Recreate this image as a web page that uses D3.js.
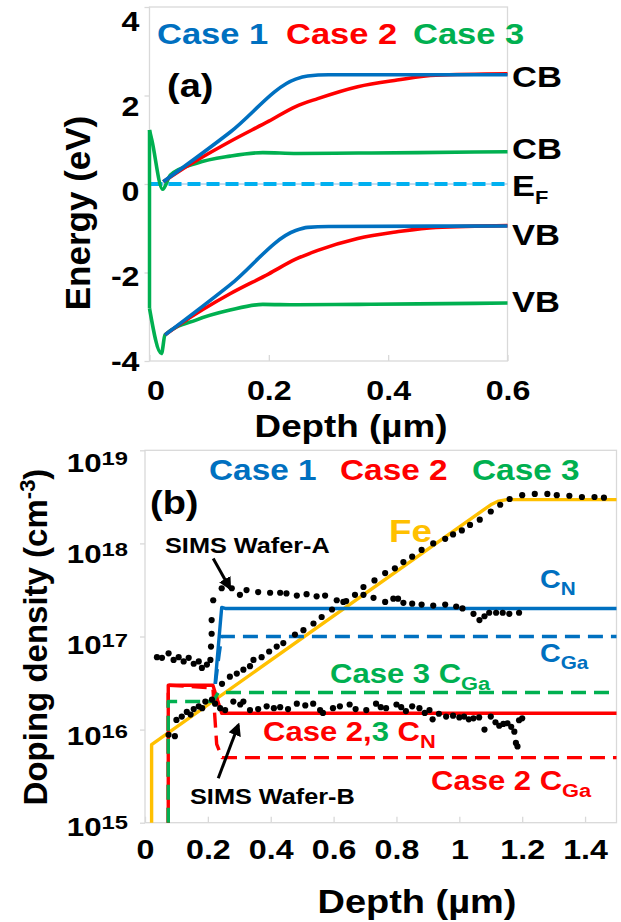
<!DOCTYPE html>
<html>
<head>
<meta charset="utf-8">
<script src="https://cdn.jsdelivr.net/npm/d3@7"></script>
<style>
  body { margin: 0; background: #fff; }
  svg { display: block; font-family: "Liberation Sans", Arial, sans-serif; font-weight: bold; }
</style>
</head>
<body>
<div id="chart"></div>
<script>
// ---------- panel (a): band edges, [depth um, energy eV]
var case1CB = [[0.023, 0.05], [0.135, 1.17], [0.245, 2.37], [0.265, 2.44], [0.3, 2.47], [0.6, 2.47]];
var case2CB = [[0.023, 0.05], [0.051, 0.3], [0.135, 0.96], [0.2, 1.42], [0.245, 1.75], [0.282, 1.93],
               [0.349, 2.2], [0.415, 2.35], [0.48, 2.46], [0.6, 2.49]];
var case3CB = [[0, 1.22], [0.004, 0.99], [0.022, -0.12], [0.035, 0.2], [0.079, 0.47], [0.135, 0.63],
               [0.19, 0.71], [0.247, 0.69], [0.35, 0.7], [0.45, 0.71], [0.6, 0.73]];
var case1VB = [[0.026, -3.41], [0.135, -2.28], [0.245, -1.05], [0.265, -0.98], [0.3, -0.96], [0.6, -0.95]];
var case2VB = [[0.026, -3.41], [0.051, -3.17], [0.135, -2.48], [0.2, -2.03], [0.245, -1.7], [0.282, -1.5],
               [0.349, -1.23], [0.415, -1.08], [0.48, -0.98], [0.6, -0.94]];
var case3VB = [[0, -2.81], [0.02, -3.83], [0.026, -3.41], [0.079, -3.07], [0.135, -2.85], [0.19, -2.72],
               [0.247, -2.73], [0.35, -2.72], [0.45, -2.71], [0.6, -2.69]];
var fermi = [[0, 0], [0.6, 0]];
var bandTicksX = [0, 0.2, 0.4, 0.6];
var bandTicksY = [-4, -2, 0, 2, 4];

// ---------- panel (b): doping profiles, [depth um, density cm-3]
var feModel = [[0.021, 1e15], [0.021, 6.9e15], [1.1, 2.6e18], [1.125, 2.85e18], [1.15, 2.95e18], [1.5, 2.95e18]];
var case1CN = [[0.223, 3.1e16], [0.238, 1.2e17], [0.244, 2.05e17], [0.255, 2e17], [1.5, 2e17]];
var case1CGa = [[0.224, 3.1e16], [0.236, 6.5e16], [0.244, 1e17], [1.5, 1e17]];
var case23CN = [[0.074, 1e15], [0.074, 3e16], [0.216, 3e16], [0.244, 1.5e16], [1.5, 1.5e16]];
var case2CGa = [[0.074, 1e15], [0.074, 3e16], [0.216, 2.8e16], [0.228, 7e15], [0.245, 5e15], [1.5, 5e15]];
var case3CGa = [[0.074, 1e15], [0.074, 2e16], [0.216, 2e16], [0.233, 2.5e16], [1.5, 2.5e16]];

var simsWaferA = [[0.038, 6.0e16], [0.054, 5.9e16], [0.075, 6.6e16], [0.091, 5.6e16], [0.107, 6.0e16],
  [0.123, 5.4e16], [0.139, 5.9e16], [0.155, 5.1e16], [0.171, 5.4e16], [0.181, 4.6e16], [0.197, 5.0e16],
  [0.208, 5.6e16], [0.21, 7.8e16], [0.212, 1.07e17], [0.212, 1.5e17], [0.217, 2.45e17],
  [0.244, 3.3e17], [0.276, 3.3e17], [0.302, 2.8e17], [0.323, 3.15e17], [0.36, 3.0e17], [0.398, 2.95e17],
  [0.43, 2.95e17], [0.45, 2.9e17], [0.483, 2.75e17], [0.514, 2.85e17], [0.546, 2.7e17], [0.573, 2.75e17],
  [0.61, 2.45e17], [0.64, 2.4e17], [0.695, 2.8e17], [0.727, 2.6e17], [0.764, 2.35e17], [0.79, 2.55e17],
  [0.805, 2.55e17], [0.822, 2.3e17], [0.85, 2.25e17], [0.88, 2.2e17], [0.917, 2.15e17], [0.955, 2.2e17],
  [0.99, 2.1e17], [1.01, 2.0e17], [1.045, 1.75e17], [1.064, 1.5e17], [1.08, 1.65e17], [1.095, 1.8e17],
  [1.117, 1.8e17], [1.138, 1.8e17], [1.159, 1.75e17], [1.19, 1.8e17]];
var simsWaferB = [[0.075, 8.8e15], [0.095, 8.5e15], [0.1, 1.27e16], [0.117, 1.38e16], [0.133, 1.55e16],
  [0.145, 1.45e16], [0.155, 1.66e16], [0.171, 1.78e16], [0.182, 1.7e16], [0.192, 2.0e16], [0.213, 2.1e16],
  [0.223, 1.9e16], [0.239, 1.7e16], [0.255, 1.62e16], [0.281, 2.0e16], [0.303, 1.86e16], [0.313, 2.0e16],
  [0.334, 1.62e16], [0.36, 1.66e16], [0.387, 1.78e16], [0.41, 1.7e16], [0.43, 1.74e16], [0.455, 1.66e16],
  [0.483, 1.9e16], [0.51, 1.82e16], [0.535, 1.9e16], [0.557, 1.62e16], [0.566, 1.51e16], [0.598, 1.7e16],
  [0.62, 1.78e16], [0.651, 1.86e16], [0.67, 1.66e16], [0.704, 1.62e16], [0.735, 1.9e16], [0.75, 1.74e16],
  [0.767, 1.7e16], [0.8, 1.86e16], [0.815, 1.74e16], [0.83, 1.58e16], [0.85, 1.78e16], [0.873, 1.7e16],
  [0.89, 1.51e16], [0.905, 1.62e16], [0.915, 1.29e16], [0.935, 1.48e16], [0.958, 1.38e16], [0.98, 1.41e16],
  [1.0, 1.35e16], [1.015, 1.38e16], [1.03, 1.29e16], [1.045, 1.32e16], [1.063, 1.35e16], [1.08, 1.0e16],
  [1.1, 1.38e16], [1.115, 1.2e16], [1.127, 1.1e16], [1.14, 1.15e16], [1.153, 1.17e16], [1.165, 1.07e16],
  [1.175, 9.5e15], [1.18, 7.2e15], [1.185, 6.6e15], [1.19, 1.26e16], [1.2, 1.32e16]];
var simsFe = [[0.245, 3.1e16], [0.27, 3.7e16], [0.292, 4.0e16], [0.313, 4.4e16], [0.334, 4.8e16],
  [0.345, 5.6e16], [0.371, 6.0e16], [0.395, 6.9e16], [0.419, 7.8e16], [0.44, 8.5e16], [0.477, 1.05e17],
  [0.504, 1.17e17], [0.536, 1.38e17], [0.562, 1.62e17], [0.595, 1.95e17], [0.631, 2.35e17], [0.668, 2.8e17],
  [0.695, 3.4e17], [0.73, 4.0e17], [0.764, 4.8e17], [0.795, 5.4e17], [0.822, 6.3e17], [0.85, 7.2e17],
  [0.88, 8.5e17], [0.917, 1.0e18], [0.955, 1.12e18], [0.98, 1.25e18], [1.008, 1.38e18], [1.034, 1.58e18],
  [1.065, 1.8e18], [1.1, 2.2e18], [1.13, 2.6e18], [1.16, 3.0e18], [1.2, 3.3e18], [1.24, 3.4e18],
  [1.28, 3.4e18], [1.31, 3.3e18], [1.35, 3.25e18], [1.39, 3.15e18], [1.43, 3.15e18], [1.46, 3.1e18]];
var arrowWaferA = [[0.217, 6.9e17], [0.27, 3.3e17]];
var arrowWaferB = [[0.233, 3.0e15], [0.297, 1.12e16]];
var dopingTicksX = [0, 0.2, 0.4, 0.6, 0.8, 1, 1.2, 1.4];
var dopingTicksY = [1e15, 1e16, 1e17, 1e18, 1e19];

var BLUE = "#0070C0", RED = "#FF0000", GREEN = "#00B050", GOLD = "#FFC000", SKY = "#00B0F0";
var GRID = "#d9d9d9";
var SX = 1.15; // text in the figure is slightly wide

var svg = d3.select("#chart").append("svg")
    .attr("width", 621)
    .attr("height", 922);

// text helper: parts = [{t, c, s, dy}]
function label(x, y, parts, size, color, anchor) {
  var t = svg.append("text")
      .attr("transform", "translate(" + x + "," + y + ") scale(" + SX + ",1)")
      .attr("font-size", size)
      .attr("fill", color || "#000")
      .attr("text-anchor", anchor || "start");
  parts.forEach(function(p) {
    t.append("tspan").text(p.t)
        .attr("fill", p.c || null)
        .attr("font-size", p.s || null)
        .attr("dy", p.dy || null);
  });
  return t;
}

// ================= panel (a) =================
var xA = d3.scaleLinear().domain([0, 0.6]).range([149.5, 507.5]);
var yA = d3.scaleLinear().domain([-4, 4]).range([361, 7]);
// tick labels in the figure sit a little off their ticks
var yLabA = d3.scaleLinear().domain([-4, 4]).range([370, 30]);

svg.append("rect")
    .attr("x", xA(0)).attr("y", yA(4))
    .attr("width", xA(0.6) - xA(0)).attr("height", yA(-4) - yA(4))
    .attr("fill", "none").attr("stroke", GRID).attr("stroke-width", 1.3);

var axYA = svg.append("g")
    .attr("transform", "translate(" + xA(0) + ",0)")
    .call(d3.axisLeft(yA).tickValues(bandTicksY).tickSize(5).tickFormat(function(d) { return String(d); }));
axYA.select(".domain").remove();
axYA.selectAll("line").attr("stroke", GRID).attr("stroke-width", 1.3);
axYA.selectAll("text")
    .attr("font-size", 28).attr("fill", "#000").attr("font-family", null)
    .attr("x", -10 / SX).attr("dy", 0)
    .attr("y", function(d) { return yLabA(d) - yA(d); })
    .attr("transform", "scale(" + SX + ",1)");

var axXA = svg.append("g")
    .attr("transform", "translate(0," + yA(-4) + ")")
    .call(d3.axisBottom(xA).tickValues(bandTicksX).tickSize(-6).tickFormat(function(d) { return String(d); }));
axXA.select(".domain").remove();
axXA.selectAll("line").attr("stroke", GRID).attr("stroke-width", 1.3);
axXA.selectAll("text")
    .attr("font-size", 28).attr("fill", "#000").attr("font-family", null)
    .attr("y", 39).attr("dy", 0)
    .attr("x", function(d) { return d === 0 ? 6 / SX : 0; })
    .attr("transform", "scale(" + SX + ",1)");

var lineA = d3.line()
    .x(function(d) { return xA(d[0]); })
    .y(function(d) { return yA(d[1]); })
    .curve(d3.curveMonotoneX);
var straightA = d3.line()
    .x(function(d) { return xA(d[0]); })
    .y(function(d) { return yA(d[1]); });

// Fermi level
svg.append("path").attr("d", straightA(fermi))
    .attr("fill", "none").attr("stroke", "#8fb8dc").attr("stroke-width", 1);
svg.append("path").attr("d", straightA(fermi))
    .attr("fill", "none").attr("stroke", SKY).attr("stroke-width", 4).attr("stroke-dasharray", "13,6");

// Case 3 wall at the surface
svg.append("path")
    .attr("d", straightA([case3CB[0], case3VB[0]]))
    .attr("fill", "none").attr("stroke", GREEN).attr("stroke-width", 3.5);

[[case3CB, GREEN], [case3VB, GREEN], [case2CB, RED], [case2VB, RED], [case1CB, BLUE], [case1VB, BLUE]]
  .forEach(function(s) {
    svg.append("path").attr("d", lineA(s[0]))
        .attr("fill", "none").attr("stroke", s[1]).attr("stroke-width", 3.6)
        .attr("stroke-linejoin", "round");
  });

label(157, 44, [{t: "Case 1"}], 30, BLUE);
label(286, 44, [{t: "Case 2"}], 30, RED);
label(413, 44, [{t: "Case 3"}], 30, GREEN);
label(167, 97, [{t: "(a)"}], 33, "#000");
label(512, 87, [{t: "CB"}], 30);
label(512, 159, [{t: "CB"}], 30);
label(512, 196, [{t: "E"}, {t: "F", s: 19, dy: 8}], 30);
label(512, 245, [{t: "VB"}], 30);
label(512, 312, [{t: "VB"}], 30);
label(351, 437, [{t: "Depth (\u00b5m)"}], 32, "#000", "middle");
svg.append("text")
    .attr("transform", "translate(90,213) rotate(-90)")
    .attr("text-anchor", "middle").attr("font-size", 35)
    .text("Energy (eV)");

// ================= panel (b) =================
var xB = d3.scaleLinear().domain([0, 1.5]).range([145, 616.5]);
var yB = d3.scaleLog().domain([1e15, 1e19]).range([822.7, 450.3]);
var yLabB = d3.scaleLog().domain([1e15, 1e19]).range([835, 471.7]);

svg.append("rect")
    .attr("x", xB(0)).attr("y", yB(1e19))
    .attr("width", xB(1.5) - xB(0)).attr("height", yB(1e15) - yB(1e19))
    .attr("fill", "none").attr("stroke", GRID).attr("stroke-width", 1.3);

var axYB = svg.append("g")
    .attr("transform", "translate(" + xB(0) + ",0)")
    .call(d3.axisLeft(yB).tickValues(dopingTicksY).tickSize(5).tickFormat(""));
axYB.select(".domain").remove();
axYB.selectAll("line").attr("stroke", GRID).attr("stroke-width", 1.3);
axYB.selectAll(".tick").each(function(d) {
  var t = d3.select(this).append("text")
      .attr("transform", "translate(-17," + (yLabB(d) - yB(d)) + ") scale(1.25,1)")
      .attr("text-anchor", "end").attr("fill", "#000").attr("font-size", 25);
  t.append("tspan").text("10");
  t.append("tspan").text(String(Math.round(Math.log10(d)))).attr("font-size", 19).attr("dy", -7);
});

var axXB = svg.append("g")
    .attr("transform", "translate(0," + yB(1e15) + ")")
    .call(d3.axisBottom(xB).tickValues(dopingTicksX).tickSize(-6).tickFormat(function(d) { return String(d); }));
axXB.select(".domain").remove();
axXB.selectAll("line").attr("stroke", GRID).attr("stroke-width", 1.3);
axXB.selectAll("text")
    .attr("font-size", 28).attr("fill", "#000").attr("font-family", null)
    .attr("y", 36).attr("dy", 0)
    .attr("transform", "scale(" + SX + ",1)");

var lineB = d3.line()
    .x(function(d) { return xB(d[0]); })
    .y(function(d) { return yB(d[1]); });

function profile(data, color, dashed) {
  svg.append("path").attr("d", lineB(data))
      .attr("fill", "none").attr("stroke", color).attr("stroke-width", 3.4)
      .attr("stroke-linejoin", "round")
      .attr("stroke-dasharray", dashed ? "15,8" : null);
}
profile(feModel, GOLD, false);
profile(case23CN, RED, false);
profile(case2CGa, RED, true);
profile(case3CGa, GREEN, true);
profile(case1CGa, BLUE, true);
profile(case1CN, BLUE, false);

[simsWaferB, simsFe, simsWaferA].forEach(function(s) {
  svg.append("g").selectAll("circle").data(s).enter().append("circle")
      .attr("cx", function(d) { return xB(d[0]); })
      .attr("cy", function(d) { return yB(d[1]); })
      .attr("r", 3.1).attr("fill", "#000");
});

// arrows
var defs = svg.append("defs");
defs.append("marker").attr("id", "head")
    .attr("viewBox", "0 0 10 10").attr("refX", 8).attr("refY", 5)
    .attr("markerUnits", "userSpaceOnUse").attr("markerWidth", 13).attr("markerHeight", 13)
    .attr("orient", "auto")
  .append("path").attr("d", "M0,0L10,5L0,10Z").attr("fill", "#000");
[arrowWaferA, arrowWaferB].forEach(function(a) {
  svg.append("path").attr("d", lineB(a))
      .attr("stroke", "#000").attr("stroke-width", 3).attr("fill", "none")
      .attr("marker-end", "url(#head)");
});

label(209, 480, [{t: "Case 1"}], 29, BLUE);
label(340, 480, [{t: "Case 2"}], 29, RED);
label(472, 480, [{t: "Case 3"}], 29, GREEN);
label(150, 514, [{t: "(b)"}], 33, "#000");
label(389, 542, [{t: "Fe"}], 32, GOLD);
label(165, 553, [{t: "SIMS Wafer-A"}], 22, "#000");
label(540, 588, [{t: "C"}, {t: "N", s: 18, dy: 7}], 25, BLUE);
label(540, 662, [{t: "C"}, {t: "Ga", s: 18, dy: 7}], 25, BLUE);
label(330, 683, [{t: "Case 3 C"}, {t: "Ga", s: 19, dy: 7}], 27, GREEN);
label(263, 741, [{t: "Case 2,"}, {t: "3", c: GREEN}, {t: " C"}, {t: "N", s: 19, dy: 7}], 27, RED);
label(431, 790, [{t: "Case 2 C"}, {t: "Ga", s: 19, dy: 7}], 27, RED);
label(190, 804, [{t: "SIMS Wafer-B"}], 22, "#000");
label(417, 913, [{t: "Depth (\u00b5m)"}], 33, "#000", "middle");

var yt = svg.append("text")
    .attr("transform", "translate(47,637) rotate(-90)")
    .attr("text-anchor", "middle").attr("font-size", 33);
yt.append("tspan").text("Doping density (cm");
yt.append("tspan").text("-3").attr("font-size", 22).attr("dy", -12);
yt.append("tspan").text(")").attr("dy", 12);
</script>
</body>
</html>
